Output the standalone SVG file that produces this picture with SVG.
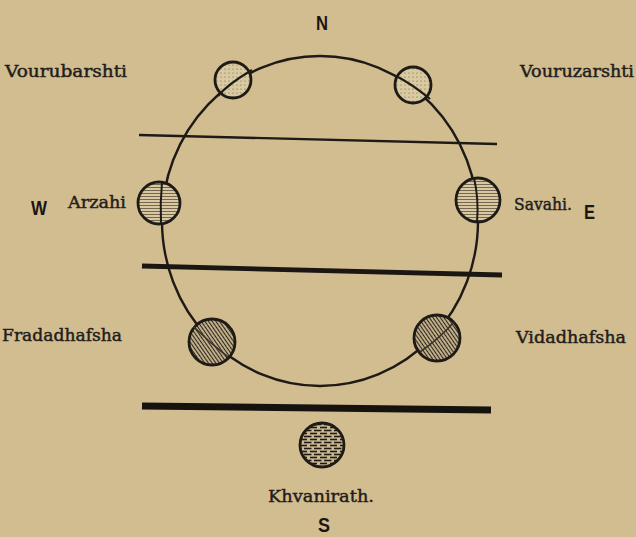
<svg xmlns="http://www.w3.org/2000/svg" width="636" height="537" viewBox="0 0 636 537">
<defs>
<style>
.lbl{font-family:"DejaVu Serif","Liberation Serif",serif;font-size:16px;fill:#231e1a;stroke:#231e1a;stroke-width:0.45}
.dir{font-family:"Liberation Sans","DejaVu Sans",sans-serif;font-weight:bold;font-size:21px;fill:#1a1612}
.orb{stroke:#1e1a16;stroke-width:2.8}
.ring{fill:none;stroke:#1e1a16;stroke-width:2.4}
</style>
<pattern id="dots" width="4" height="4" patternUnits="userSpaceOnUse">
<rect width="4" height="4" fill="#dacaa2"/>
<circle cx="1" cy="1" r="0.6" fill="#6b5d48"/>
</pattern>
<pattern id="hline" width="4" height="3" patternUnits="userSpaceOnUse">
<rect width="4" height="3" fill="#d9c8a0"/>
<line x1="0" y1="1.5" x2="4" y2="1.5" stroke="#5a4e3e" stroke-width="0.8"/>
</pattern>
<pattern id="diag" width="3" height="4" patternUnits="userSpaceOnUse" patternTransform="rotate(-35)">
<rect width="3" height="4" fill="#d0bd95"/>
<line x1="1.5" y1="0" x2="1.5" y2="4" stroke="#2e2720" stroke-width="1.2"/>
</pattern>
<pattern id="dash" width="10" height="6" patternUnits="userSpaceOnUse">
<rect width="10" height="6" fill="#cdb98f"/>
<line x1="0" y1="1.5" x2="7" y2="1.5" stroke="#1e1a16" stroke-width="1.6"/>
<line x1="4" y1="4.5" x2="10" y2="4.5" stroke="#1e1a16" stroke-width="1.6"/>
<line x1="0" y1="4.5" x2="1.5" y2="4.5" stroke="#1e1a16" stroke-width="1.6"/>
</pattern>
</defs>
<rect width="636" height="537" fill="#d2bd91"/>

<g id="connectors">
<ellipse class="ring" cx="320" cy="221" rx="158" ry="165"/>
<line x1="139" y1="135" x2="497" y2="144" stroke="#1e1a16" stroke-width="2.4"/>
<line x1="142" y1="266" x2="502" y2="275" stroke="#1a1612" stroke-width="4.8"/>
<line x1="142" y1="406" x2="491" y2="410" stroke="#16130f" stroke-width="7"/>
</g>

<g id="north"><text class="dir" x="316" y="30" textLength="12" lengthAdjust="spacingAndGlyphs">N</text></g>
<g id="south"><text class="dir" x="318" y="532" textLength="12" lengthAdjust="spacingAndGlyphs">S</text></g>
<g id="west"><text class="dir" x="31" y="215" textLength="16" lengthAdjust="spacingAndGlyphs">W</text></g>
<g id="east"><text class="dir" x="584" y="219" textLength="11" lengthAdjust="spacingAndGlyphs">E</text></g>

<g id="vourubarshti">
<circle class="orb" cx="233" cy="80" r="18" fill="url(#dots)"/>
<path d="M218,96 Q228,84 252,70" fill="none" stroke="#1e1a16" stroke-width="2.2"/>
<text class="lbl" x="5" y="77" textLength="122" lengthAdjust="spacingAndGlyphs">Vourubarshti</text>
</g>
<g id="vouruzarshti">
<circle class="orb" cx="413" cy="85" r="18" fill="url(#dots)"/>
<path d="M396,76 Q412,84 430,99" fill="none" stroke="#1e1a16" stroke-width="2.2"/>
<text class="lbl" x="520" y="77" textLength="114" lengthAdjust="spacingAndGlyphs">Vouruzarshti</text>
</g>
<g id="arzahi">
<circle class="orb" cx="159" cy="203" r="21" fill="url(#hline)"/>
<path d="M162,182 Q160,203 161,224" fill="none" stroke="#1e1a16" stroke-width="2"/>
<text class="lbl" x="68" y="208" textLength="58" lengthAdjust="spacingAndGlyphs">Arzahi</text>
</g>
<g id="savahi">
<circle class="orb" cx="478" cy="200" r="22" fill="url(#hline)"/>
<path d="M474,178 Q479,199 477,222" fill="none" stroke="#1e1a16" stroke-width="2"/>
<text class="lbl" x="514" y="210" textLength="58" lengthAdjust="spacingAndGlyphs">Savahi.</text>
</g>
<g id="fradadhafsha">
<circle class="orb" cx="212" cy="342" r="23" fill="url(#diag)"/>
<path d="M194,327 Q210,343 228,357" fill="none" stroke="#3a3228" stroke-width="1.6"/>
<text class="lbl" x="2" y="341" textLength="120" lengthAdjust="spacingAndGlyphs">Fradadhafsha</text>
</g>
<g id="vidadhafsha">
<circle class="orb" cx="437" cy="338" r="23" fill="url(#diag)"/>
<path d="M454,322 Q440,338 420,352" fill="none" stroke="#3a3228" stroke-width="1.6"/>
<text class="lbl" x="516" y="343" textLength="110" lengthAdjust="spacingAndGlyphs">Vidadhafsha</text>
</g>
<g id="khvanirath">
<circle class="orb" cx="322" cy="445" r="22" fill="url(#dash)"/>
<text class="lbl" x="321" y="502" text-anchor="middle" textLength="106" lengthAdjust="spacingAndGlyphs">Khvanirath.</text>
</g>
</svg>
